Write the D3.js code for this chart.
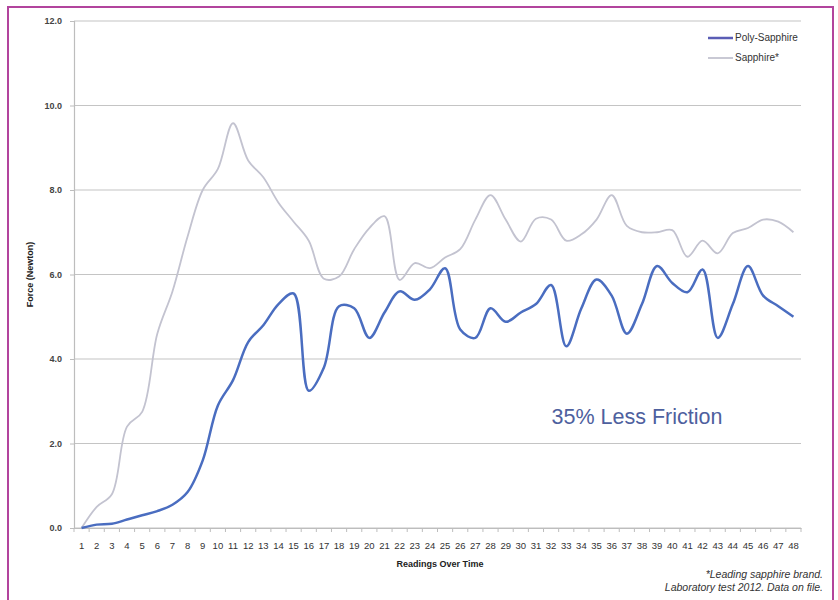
<!DOCTYPE html>
<html>
<head>
<meta charset="utf-8">
<script src="https://cdn.jsdelivr.net/npm/d3@7"></script>
<style>
  body { margin: 0; background: #fff; }
  svg { display: block; font-family: "Liberation Sans", Arial, sans-serif; }
  .grid-line { stroke: #c4c4c4; stroke-width: 1.2; }
  .tick-label { font-size: 9px; fill: #333; }
</style>
</head>
<body>
<svg id="chart"></svg>
<script>
// Data
const readings = d3.range(1, 49);
const polySapphire = [
    0.0, 0.08, 0.1, 0.2, 0.3, 0.4, 0.55, 0.85, 1.6, 2.9,
    3.5, 4.4, 4.8, 5.3, 5.55, 3.25, 3.8, 5.25, 5.2, 4.5,
    5.1, 5.6, 5.4, 5.65, 6.15, 4.7, 4.5, 5.2, 4.88, 5.1,
    5.3, 5.75, 4.3, 5.2, 5.88, 5.5, 4.6, 5.3, 6.2, 5.8,
    5.58, 6.12, 4.5, 5.3, 6.2, 5.5, 5.25, 5.0
];
const sapphire = [
    0.0, 0.5, 0.8, 2.4, 2.75, 4.6, 5.6, 6.9, 8.0, 8.5,
    9.58, 8.7, 8.3, 7.7, 7.25, 6.8, 5.9, 5.95, 6.6, 7.1,
    7.38, 5.87, 6.27, 6.15, 6.4, 6.6, 7.3, 7.88, 7.3, 6.78,
    7.32, 7.3, 6.8, 6.95, 7.3, 7.88, 7.15, 7.0, 7.0, 7.05,
    6.42, 6.8, 6.5, 6.98, 7.1, 7.3, 7.25, 7.0
];
const yTicks = [0, 2, 4, 6, 8, 10, 12];
const seriesNames = ["Poly-Sapphire", "Sapphire*"];
const seriesColors = ["#4a6dc0", "#c3c3d0"];

const width = 838, height = 600;
const svg = d3.select("#chart").attr("width", width).attr("height", height);

// Plot area
const plot = { left: 74, right: 801, top: 21, bottom: 528 };

const x = d3.scaleBand()
    .domain(readings)
    .range([plot.left, plot.right]);

const y = d3.scaleLinear()
    .domain([0, 12])
    .range([plot.bottom, plot.top]);

// Frame
svg.append("path")
    .attr("d", `M8,600 L8,7 L833,7 L833,600`)
    .style("fill", "none")
    .style("stroke", "#b2449d")
    .style("stroke-width", 2);

// Horizontal grid lines
svg.selectAll(".grid-line")
    .data(yTicks)
    .enter()
    .append("line")
    .attr("class", "grid-line")
    .attr("x1", plot.left)
    .attr("x2", plot.right)
    .attr("y1", d => y(d))
    .attr("y2", d => y(d));

// Y axis
const yAxis = svg.append("g")
    .attr("transform", `translate(${plot.left},0)`)
    .call(d3.axisLeft(y).tickValues(yTicks).tickFormat(d3.format(".1f")).tickSize(4).tickPadding(8));
yAxis.select(".domain").style("stroke", "#bdbdbd").style("stroke-width", 1.2);
yAxis.selectAll(".tick line").style("stroke", "#bdbdbd");
yAxis.selectAll(".tick text").attr("class", "tick-label").style("font-weight", "bold").style("fill", "#444");

// X axis
const xAxis = svg.append("g")
    .attr("transform", `translate(0,${plot.bottom})`)
    .call(d3.axisBottom(x).tickSize(0).tickPadding(14));
xAxis.select(".domain").style("stroke", "#bdbdbd").style("stroke-width", 1.2);
xAxis.selectAll(".tick text").attr("class", "tick-label").style("font-size", "9.5px").style("fill", "#333");
// small tick marks at the category boundaries
svg.append("g")
    .selectAll("line")
    .data(readings.concat([49]))
    .enter()
    .append("line")
    .attr("x1", d => d <= 48 ? x(d) : plot.right)
    .attr("x2", d => d <= 48 ? x(d) : plot.right)
    .attr("y1", plot.bottom)
    .attr("y2", plot.bottom + 4)
    .style("stroke", "#bdbdbd");

// Axis titles
svg.append("text")
    .attr("x", 440)
    .attr("y", 567)
    .attr("text-anchor", "middle")
    .style("font-size", "9px")
    .style("font-weight", "bold")
    .style("fill", "#222")
    .text("Readings Over Time");

svg.append("text")
    .attr("transform", `translate(33,${(plot.top + plot.bottom) / 2}) rotate(-90)`)
    .attr("text-anchor", "middle")
    .style("font-size", "9px")
    .style("font-weight", "bold")
    .style("fill", "#222")
    .text("Force (Newton)");

// Lines
const line = d3.line()
    .x((d, i) => x(readings[i]) + x.bandwidth() / 2)
    .y(d => y(d))
    .curve(d3.curveCatmullRom.alpha(0.5));

svg.append("path")
    .datum(sapphire)
    .attr("d", line)
    .style("fill", "none")
    .style("stroke", seriesColors[1])
    .style("stroke-width", 1.8);

svg.append("path")
    .datum(polySapphire)
    .attr("d", line)
    .style("fill", "none")
    .style("stroke", seriesColors[0])
    .style("stroke-width", 2.5);

// Legend
const legend = svg.append("g");
seriesNames.forEach((name, i) => {
    const ly = 38 + i * 20;
    legend.append("line")
        .attr("x1", 708).attr("x2", 733)
        .attr("y1", ly).attr("y2", ly)
        .style("stroke", i === 0 ? "#5a5db5" : seriesColors[1])
        .style("stroke-width", i === 0 ? 2.5 : 1.8);
    legend.append("text")
        .attr("x", 735)
        .attr("y", ly)
        .attr("dominant-baseline", "middle")
        .style("font-size", "10px")
        .style("fill", "#333")
        .text(name);
});

// Annotation
svg.append("text")
    .attr("x", 637)
    .attr("y", 424)
    .attr("text-anchor", "middle")
    .style("font-size", "21.5px")
    .style("fill", "#4e609e")
    .text("35% Less Friction");

// Footnote
const note = svg.append("text")
    .attr("text-anchor", "end")
    .style("font-size", "10.5px")
    .style("font-style", "italic")
    .style("fill", "#333");
note.append("tspan").attr("x", 823).attr("y", 578).text("*Leading sapphire brand.");
note.append("tspan").attr("x", 823).attr("y", 591).text("Laboratory test 2012. Data on file.");
</script>
</body>
</html>
